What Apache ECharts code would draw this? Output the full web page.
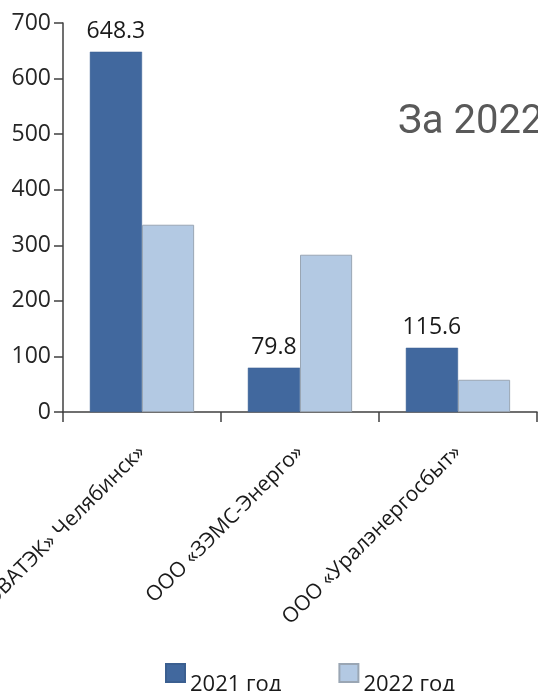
<!DOCTYPE html>
<html>
<head>
<meta charset="utf-8">
<script src="https://cdn.jsdelivr.net/npm/echarts@6/dist/echarts.min.js"></script>
<style>
html,body{margin:0;padding:0;background:#fff;}
#chart{width:538px;height:691px;}
</style>
</head>
<body>
<div id="chart"></div>
<script>
const categories = ['ООО «НОВАТЭК» Челябинск»', 'ООО «ЗЭМС-Энерго»', 'ООО «Уралэнергосбыт»'];
const seriesNames = ['2021 год', '2022 год'];
const values2021 = [648.3, 79.8, 115.6];
const values2022 = [337, 283, 58];
const yTicks = [0, 100, 200, 300, 400, 500, 600, 700];

const chart = echarts.init(document.getElementById('chart'));
const font = '"Open Sans", sans-serif';
chart.setOption({
  animation: false,
  textStyle: { fontFamily: font },
  grid: { left: 63, right: 1, top: 23, bottom: 279, containLabel: false, outerBoundsMode: 'none' },
  legend: {
    data: seriesNames,
    left: 160,
    top: 658,
    itemWidth: 19,
    itemHeight: 18,
    itemGap: 57,
    icon: 'rect',
    formatter: '{a|{name}}',
    textStyle: {
      rich: { a: { fontFamily: font, fontSize: 22, color: '#1a1a1a', padding: [24, 0, 0, 0] } }
    }
  },
  xAxis: {
    type: 'category',
    data: categories,
    axisLine: { lineStyle: { color: '#404040', width: 1.5 } },
    axisTick: { show: true, length: 10, lineStyle: { color: '#404040', width: 1.5 } },
    axisLabel: { rotate: 45, margin: 37, fontSize: 21, color: '#1a1a1a', fontFamily: font, interval: 0 }
  },
  yAxis: {
    type: 'value',
    min: yTicks[0],
    max: yTicks[yTicks.length - 1],
    interval: 100,
    splitLine: { show: false },
    axisLine: { show: true, lineStyle: { color: '#404040', width: 1.5 } },
    axisTick: { show: true, length: 9, lineStyle: { color: '#404040', width: 1.5 } },
    axisLabel: { margin: 12, fontSize: 23, color: '#262626', fontFamily: font }
  },
  series: [
    {
      name: seriesNames[0],
      type: 'bar',
      data: values2021,
      barGap: '0%',
      barCategoryGap: '34%',
      itemStyle: { color: '#41689E', borderColor: '#3b5f90', borderWidth: 0.5 },
      label: { show: true, position: 'top', distance: 9, fontSize: 23, color: '#1a1a1a', fontFamily: font }
    },
    {
      name: seriesNames[1],
      type: 'bar',
      data: values2022,
      barGap: '0%',
      barCategoryGap: '34%',
      itemStyle: { color: '#B3C9E3', borderColor: '#9aa6b4', borderWidth: 1 }
    }
  ],
  graphic: [
    {
      type: 'text',
      left: 398,
      top: 103,
      style: { text: 'За 2022 год', fontFamily: 'Roboto, sans-serif', fontSize: 40, fill: '#595959' }
    }
  ]
});
</script>
</body>
</html>
